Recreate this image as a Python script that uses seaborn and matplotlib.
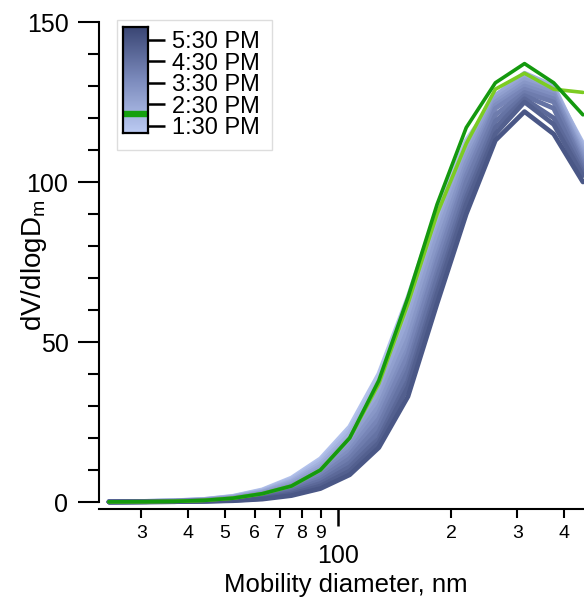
import numpy as np
import pandas as pd
import matplotlib
matplotlib.use("Agg")
import matplotlib.pyplot as plt
from matplotlib.colors import LinearSegmentedColormap, Normalize
from matplotlib.ticker import FixedLocator, FixedFormatter
from matplotlib.patches import Rectangle
import seaborn as sns

# ---------------- data ----------------
diameters = [24.6, 30.8, 36.8, 44.0, 52.6, 62.9, 75.2, 89.8, 107.4, 128.4,
             153.5, 183.4, 219.3, 262.1, 313.3, 374.6, 448.0]

# sample times (hours, 24h clock) for the blue size distributions
times = [13.50, 13.83, 14.17, 14.50, 14.83, 15.17, 15.50,
         15.83, 16.17, 16.50, 16.83, 17.17, 17.50]

curves = [
    [0.1, 0.2, 0.4, 0.8, 1.8, 3.8, 7.5, 13.5, 23.5, 40, 64, 91, 113, 126, 131, 127, 110],
    [0.1, 0.2, 0.4, 0.8, 1.7, 3.6, 7.1, 12.8, 22.4, 38, 62, 89, 112, 127, 133, 129, 112],
    [0.1, 0.2, 0.35, 0.7, 1.6, 3.3, 6.6, 12.0, 21.2, 36, 59, 87, 111, 127, 134, 130, 111],
    [0.1, 0.15, 0.3, 0.65, 1.5, 3.1, 6.2, 11.2, 20, 34, 57, 85, 110, 127, 133, 129, 110],
    [0.05, 0.15, 0.3, 0.6, 1.3, 2.9, 5.7, 10.4, 18.6, 32, 54, 83, 108, 126, 132, 128, 109],
    [0.05, 0.1, 0.25, 0.55, 1.2, 2.6, 5.2, 9.6, 17.3, 30, 51, 80, 106, 125, 131, 128, 108],
    [0.05, 0.1, 0.2, 0.5, 1.1, 2.4, 4.8, 8.9, 16, 28, 48, 77, 104, 124, 130, 127, 107],
    [0.05, 0.1, 0.2, 0.45, 1.0, 2.2, 4.3, 8.2, 14.8, 26, 46, 75, 102, 123, 129, 126, 106],
    [0.05, 0.1, 0.2, 0.4, 0.85, 1.9, 3.9, 7.4, 13.6, 24, 43, 72, 100, 121, 128, 125, 105],
    [0.0, 0.1, 0.15, 0.35, 0.75, 1.7, 3.5, 6.6, 12.2, 22, 41, 70, 97, 119, 127, 123, 104],
    [0.0, 0.05, 0.1, 0.3, 0.6, 1.4, 3.0, 5.8, 11, 20, 38, 67, 95, 117, 126, 120, 103],
    [0.0, 0.05, 0.1, 0.25, 0.5, 1.1, 2.5, 5.0, 9.7, 18.5, 36, 65, 93, 115, 125, 118, 102],
    [0.0, 0.05, 0.1, 0.2, 0.4, 0.9, 2.0, 4.2, 8.5, 17, 33, 62, 90, 113, 122, 115, 100],
]

# highlighted distribution (green) and its companion trace
highlight_time = 14.08
highlight = [0.05, 0.1, 0.2, 0.5, 1.2, 2.6, 5.0, 10, 20, 38, 64, 93, 117, 131, 137, 131, 121]
companion = [0.05, 0.1, 0.2, 0.5, 1.2, 2.6, 5.0, 10, 20, 37, 62, 90, 112, 129, 134, 129, 128]

cbar_ticks = [13.5, 14.5, 15.5, 16.5, 17.5]
cbar_labels = ["1:30 PM", "2:30 PM", "3:30 PM", "4:30 PM", "5:30 PM"]

x_minor = [30, 40, 50, 60, 70, 80, 90, 200, 300, 400]
x_minor_labels = ["3", "4", "5", "6", "7", "8", "9", "2", "3", "4"]
x_major = [100]

# ---------------- style ----------------
sns.set_style("ticks")
plt.rcParams["font.family"] = ["Liberation Sans", "DejaVu Sans"]
plt.rcParams["mathtext.fontset"] = "custom"
plt.rcParams["mathtext.rm"] = "Liberation Sans"
for k in ["text.color", "axes.labelcolor", "xtick.color", "ytick.color"]:
    plt.rcParams[k] = "black"

cmap = LinearSegmentedColormap.from_list("tb", ["#bccbf3", "#7c8bbd", "#3a4674"])
vmin, vmax = 13.17, 18.1
norm = Normalize(vmin, vmax)

rows = []
for t, c in zip(times, curves):
    for d, v in zip(diameters, c):
        rows.append({"diameter": d, "dV": v, "time": t})
df = pd.DataFrame(rows)
palette = {t: cmap(norm(t)) for t in times}

fig = plt.figure(figsize=(5.84, 5.98), dpi=100)
ax = fig.add_axes([99 / 584, 1 - 502 / 598, 485 / 584, 480 / 598])
ax.set_xscale("log")

sns.lineplot(data=df, x="diameter", y="dV", hue="time", palette=palette,
             units="time", estimator=None, sort=False, legend=False,
             linewidth=3.4, ax=ax, clip_on=False)

gdf = pd.DataFrame({"diameter": diameters, "dV": companion})
sns.lineplot(data=gdf, x="diameter", y="dV", color="#7ccc22", linewidth=2.6,
             ax=ax, estimator=None, sort=False, clip_on=False)
hdf = pd.DataFrame({"diameter": diameters, "dV": highlight})
sns.lineplot(data=hdf, x="diameter", y="dV", color="#14990e", linewidth=2.6,
             ax=ax, estimator=None, sort=False, clip_on=False)

ax.set_xlim(23.14, 451)
ax.set_ylim(0, 150)

# spines
for s in ["top", "right"]:
    ax.spines[s].set_visible(False)
ax.spines["left"].set_linewidth(1.5)
ax.spines["bottom"].set_linewidth(1.5)
ax.spines["bottom"].set_position(("outward", 5))
for s in ["left", "bottom"]:
    ax.spines[s].set_color("black")

# y ticks
ax.yaxis.set_major_locator(FixedLocator([0, 50, 100, 150]))
ax.yaxis.set_minor_locator(FixedLocator([v for v in range(10, 150, 10) if v % 50]))
ax.tick_params(axis="y", which="major", length=15, width=1.5, labelsize=18, pad=7)
ax.tick_params(axis="y", which="minor", length=8, width=1.5)

# x ticks
ax.xaxis.set_major_locator(FixedLocator(x_major))
ax.xaxis.set_major_formatter(FixedFormatter(["100"]))
ax.xaxis.set_minor_locator(FixedLocator(x_minor))
ax.xaxis.set_minor_formatter(FixedFormatter(x_minor_labels))
ax.tick_params(axis="x", which="major", length=12, width=1.8, labelsize=18, pad=13.5)
ax.tick_params(axis="x", which="minor", length=6.5, width=1.5, labelsize=14, pad=5)

ax.set_xlabel("Mobility diameter, nm", fontsize=18.5)
ax.xaxis.set_label_coords(0.509, -0.147)
ax.set_ylabel(r"dV/dlogD$_\mathregular{m}$", fontsize=20)
ax.yaxis.set_label_coords(-0.103, 0.494)

# legend box + colour scale
fig.patches.append(Rectangle((117 / 584, 1 - 150 / 598), 155 / 584, 130 / 598,
                             transform=fig.transFigure, facecolor="white",
                             edgecolor="#dddddd", linewidth=1.0, zorder=2))
cax = fig.add_axes([123 / 584, 1 - 133 / 598, 25 / 584, 106 / 598], zorder=3)
grad = np.linspace(vmin, vmax, 256).reshape(-1, 1)
cax.imshow(grad, cmap=cmap, norm=norm, aspect="auto", origin="lower",
           extent=[0, 1, vmin, vmax])
cax.axhspan(highlight_time - 0.13, highlight_time + 0.13, color="#14a00e")
cax.set_xlim(0, 1)
cax.set_ylim(vmin, vmax)
cax.set_xticks([])
cax.yaxis.tick_right()
cax.set_yticks(cbar_ticks)
cax.set_yticklabels(cbar_labels)
cax.tick_params(axis="y", length=12, width=1.8, labelsize=17, pad=5)
for s in cax.spines.values():
    s.set_linewidth(1.6)
    s.set_color("black")

fig.savefig("out.png", dpi=100)
